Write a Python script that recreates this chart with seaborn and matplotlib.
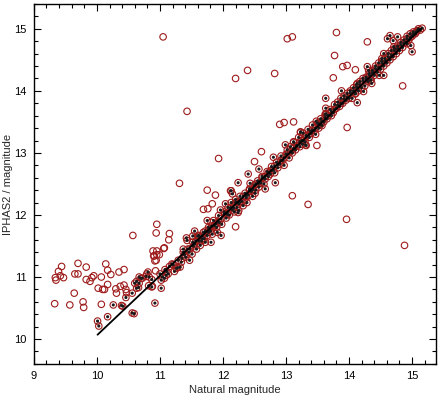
import numpy as np
import pandas as pd
import matplotlib
matplotlib.use("Agg")
import matplotlib.pyplot as plt
from matplotlib.ticker import MultipleLocator
import seaborn as sns

# Outliers: plain open circles
open_x = [9.34, 9.35, 9.39, 9.44, 9.47, 9.42, 9.33, 9.57, 9.64, 9.65, 9.70, 9.70,
          9.78, 9.79, 9.83, 9.83, 9.89, 9.92, 9.95, 10.02, 10.07, 10.07, 10.09, 10.12,
          10.14, 10.17, 10.17, 10.22, 10.30, 10.31, 10.35, 10.37, 10.43, 10.43, 10.46,
          10.47, 10.57, 10.79, 10.88, 10.95, 10.94, 10.95, 10.91, 10.94, 10.93, 10.99,
          11.06, 11.15, 11.14, 11.07, 10.89, 10.95, 10.90, 10.92, 11.69, 11.76, 11.83,
          11.81, 11.05, 11.43, 11.31, 11.75, 11.88, 11.93, 12.20, 12.39, 12.82, 13.02,
          13.10, 13.80, 14.29, 13.77, 13.90, 13.97, 13.75, 14.85, 13.97, 12.90, 12.97,
          13.12, 13.49, 12.61, 12.50, 13.10, 13.35, 13.96, 14.88, 12.20, 14.10]
open_y = [10.99, 10.95, 11.09, 11.17, 10.99, 11.02, 10.57, 10.55, 10.74, 11.05, 11.22, 11.05,
          10.60, 10.51, 11.16, 10.96, 10.93, 10.99, 11.02, 10.82, 11.00, 10.56, 10.80, 10.80,
          11.21, 11.11, 10.88, 11.04, 10.81, 10.74, 11.08, 10.85, 11.12, 10.87, 10.80,
          10.75, 11.67, 11.05, 10.85, 11.85, 11.71, 11.42, 11.34, 11.27, 11.10, 11.36,
          11.46, 11.70, 11.60, 11.47, 11.42, 11.36, 11.34, 11.26, 12.09, 12.10, 12.18,
          11.88, 14.87, 13.67, 12.51, 12.40, 12.32, 12.91, 14.20, 14.33, 14.28, 14.84,
          14.87, 14.94, 14.79, 14.57, 14.39, 14.41, 14.21, 14.08, 13.41, 13.46, 13.49,
          13.50, 13.12, 13.02, 12.86, 12.31, 12.17, 11.93, 11.51, 11.81, 14.34]

# Main sequence below 12 mag: circles with a black centre dot
seq_a_x = [10.01, 10.03, 10.17, 10.26, 10.39, 10.41, 10.46, 10.56, 10.59, 10.56, 10.60,
           10.63, 10.67, 10.63, 10.66, 10.70, 10.72, 10.78, 10.81, 10.83, 10.87, 10.82,
           10.87, 10.92, 11.02, 11.02, 11.07, 11.10, 11.11, 11.15, 11.19, 11.23, 11.26,
           11.29, 11.32, 11.34, 11.37, 11.41, 11.44, 11.47, 11.43, 11.51, 11.55, 11.58,
           11.61, 11.64, 11.67, 11.69, 11.72, 11.75, 11.78, 11.81, 11.83, 11.87, 11.91,
           11.94, 11.97, 11.55, 11.52, 11.42, 11.60, 11.66, 11.47, 11.37, 11.75, 11.90,
           11.98, 11.85, 11.77, 11.96, 11.93, 10.67, 11.00, 11.04, 11.08, 11.13, 11.21,
           11.28, 11.35, 11.39, 11.46, 11.53, 11.62, 11.70, 11.80, 11.89]
seq_a_y = [10.29, 10.21, 10.36, 10.55, 10.54, 10.53, 10.67, 10.42, 10.41, 10.74, 10.90,
           10.93, 11.00, 10.82, 10.83, 10.98, 10.98, 11.01, 11.08, 11.00, 10.96, 10.86,
           10.84, 10.58, 10.82, 10.95, 10.98, 11.03, 11.09, 11.17, 11.21, 11.09, 11.14,
           11.27, 11.16, 11.24, 11.40, 11.32, 11.45, 11.27, 11.59, 11.37, 11.53, 11.45,
           11.67, 11.51, 11.61, 11.72, 11.56, 11.67, 11.77, 11.56, 11.69, 11.83, 11.72,
           11.88, 11.67, 11.74, 11.66, 11.63, 11.66, 11.58, 11.45, 11.45, 11.91, 11.80,
           11.85, 11.91, 11.80, 12.08, 11.99, 10.90, 11.05, 11.00, 11.12, 11.05, 11.20,
           11.15, 11.30, 11.36, 11.40, 11.50, 11.58, 11.62, 11.74, 11.86]

# Main sequence 12 - 14 mag
seq_b_x = [12.02, 12.05, 12.08, 12.10, 12.13, 12.15, 12.18, 12.20, 12.22, 12.25, 12.27,
           12.30, 12.32, 12.35, 12.37, 12.40, 12.42, 12.45, 12.47, 12.50, 12.52, 12.55,
           12.57, 12.60, 12.62, 12.65, 12.67, 12.70, 12.72, 12.75, 12.77, 12.80, 12.82,
           12.85, 12.87, 12.90, 12.92, 12.95, 12.97, 13.00, 12.12, 12.15, 12.24, 12.20,
           12.04, 12.07, 12.24, 12.80, 12.40, 12.57, 12.43, 12.13, 12.83, 12.67, 12.51,
           12.38, 12.25, 12.99, 13.12, 13.23, 13.31,
           13.02, 13.05, 13.07, 13.10, 13.12, 13.15, 13.17, 13.20, 13.22, 13.25, 13.27,
           13.30, 13.32, 13.35, 13.37, 13.40, 13.42, 13.45, 13.47, 13.50, 13.52, 13.55,
           13.57, 13.60, 13.62, 13.65, 13.67, 13.70, 13.72, 13.75, 13.77, 13.80, 13.82,
           13.85, 13.87, 13.90, 13.92, 13.95, 13.97, 14.00, 13.63, 13.63, 13.63, 13.57,
           13.48, 13.88, 14.13, 13.64, 13.55, 13.39, 13.23, 13.32, 13.26]
seq_b_y = [12.05, 11.95, 12.12, 12.00, 12.20, 12.08, 12.05, 12.25, 12.12, 12.18, 12.30,
           12.22, 12.15, 12.35, 12.28, 12.32, 12.42, 12.38, 12.30, 12.48, 12.40, 12.55,
           12.45, 12.52, 12.62, 12.50, 12.58, 12.70, 12.62, 12.66, 12.78, 12.72, 12.68,
           12.85, 12.76, 12.82, 12.95, 12.88, 12.80, 12.98, 12.39, 12.34, 12.52, 12.20,
           12.18, 12.01, 12.04, 12.93, 12.66, 12.74, 12.51, 12.39, 12.52, 12.42, 12.35,
           12.20, 12.07, 13.13, 13.17, 13.33, 13.13,
           13.05, 12.92, 13.10, 13.00, 13.18, 13.05, 13.12, 13.25, 13.10, 13.20, 13.32,
           13.18, 13.26, 13.38, 13.25, 13.32, 13.45, 13.36, 13.30, 13.48, 13.40, 13.55,
           13.44, 13.50, 13.62, 13.55, 13.60, 13.70, 13.60, 13.65, 13.78, 13.72, 13.82,
           13.75, 13.88, 13.80, 13.92, 13.85, 13.96, 13.88, 13.88, 13.72, 13.63, 13.51,
           13.51, 14.00, 13.81, 13.62, 13.46, 13.35, 13.34, 13.12, 13.14]

# Main sequence above 14 mag
seq_c_x = [14.02, 14.05, 14.07, 14.10, 14.12, 14.15, 14.17, 14.20, 14.22, 14.25, 14.27,
           14.30, 14.32, 14.35, 14.37, 14.40, 14.42, 14.45, 14.47, 14.50, 14.52, 14.55,
           14.57, 14.60, 14.62, 14.65, 14.67, 14.70, 14.72, 14.75, 14.77, 14.80, 14.82,
           14.85, 14.87, 14.90, 14.92, 14.95, 14.97, 15.00, 15.02, 15.05, 15.08, 15.10,
           15.13, 15.16, 14.98, 15.00, 14.92, 14.61, 14.65, 14.70, 14.77, 14.71, 14.55,
           14.52, 14.29, 14.31, 14.37, 14.48, 14.55, 14.34, 14.36, 14.13, 14.10, 14.23]
seq_c_y = [14.00, 13.88, 14.05, 13.95, 14.10, 14.00, 14.15, 14.05, 14.20, 14.08, 14.22,
           14.15, 14.28, 14.18, 14.32, 14.25, 14.40, 14.30, 14.45, 14.35, 14.48, 14.40,
           14.52, 14.45, 14.60, 14.50, 14.65, 14.55, 14.68, 14.60, 14.72, 14.65, 14.78,
           14.70, 14.82, 14.78, 14.88, 14.82, 14.92, 14.88, 14.95, 14.92, 14.97, 15.00,
           14.98, 15.01, 14.73, 14.63, 14.76, 14.84, 14.89, 14.81, 14.87, 14.71, 14.60,
           14.52, 14.39, 14.33, 14.33, 14.25, 14.25, 14.17, 14.12, 14.12, 13.96, 13.99]

# Points lying right on the relation
seq_d_x = [11.52, 11.57, 11.62, 11.67, 11.72, 11.77, 11.82, 11.87, 11.92, 11.97, 12.02,
           12.07, 12.12, 12.17, 12.22, 12.27, 12.32, 12.37, 12.42, 12.47, 12.52, 12.57,
           12.62, 12.67, 12.72, 12.77, 12.82, 12.87, 12.92, 12.97, 13.02, 13.07, 13.12,
           13.17, 13.22, 13.27, 13.32, 13.37, 13.42, 13.47, 13.52, 13.57, 13.62, 13.67,
           13.72, 13.77, 13.82, 13.87, 13.92, 13.97, 14.02, 14.07, 14.12, 14.17, 14.22,
           14.27, 14.32, 14.37, 14.42, 14.47, 14.52, 14.57, 14.62, 14.67, 14.72, 14.77,
           14.82, 14.87, 14.92, 14.97, 15.02, 15.07]
seq_d_y = [11.56, 11.58, 11.66, 11.66, 11.74, 11.72, 11.82, 11.84, 11.90, 11.94, 12.02,
           12.03, 12.12, 12.11, 12.20, 12.21, 12.30, 12.31, 12.40, 12.41, 12.50, 12.51,
           12.60, 12.62, 12.68, 12.72, 12.79, 12.81, 12.88, 12.92, 12.98, 13.02, 13.07,
           13.11, 13.18, 13.20, 13.28, 13.30, 13.37, 13.40, 13.47, 13.50, 13.57, 13.60,
           13.67, 13.70, 13.77, 13.80, 13.87, 13.90, 13.97, 14.00, 14.06, 14.10, 14.16,
           14.19, 14.26, 14.29, 14.36, 14.38, 14.45, 14.48, 14.55, 14.58, 14.65, 14.68,
           14.74, 14.77, 14.84, 14.86, 14.92, 14.95]

# Fitted relation
line_x = [10.01, 15.14]
line_y = [10.07, 15.00]

dotted = pd.DataFrame({
    "natural": seq_a_x + seq_b_x + seq_c_x + seq_d_x,
    "iphas": seq_a_y + seq_b_y + seq_c_y + seq_d_y,
})
outliers = pd.DataFrame({"natural": open_x, "iphas": open_y})

sns.set_style("ticks")
plt.rcParams["font.family"] = ["Liberation Sans", "DejaVu Sans"]

fig = plt.figure(figsize=(4.4, 3.99), dpi=100)
ax = fig.add_axes([0.077, 0.088, 0.914, 0.902])

ring = "#9e1b1b"
sns.scatterplot(data=outliers, x="natural", y="iphas", ax=ax, marker="o", s=22,
                facecolor="none", edgecolor=ring, linewidth=0.8, zorder=3)
sns.scatterplot(data=dotted, x="natural", y="iphas", ax=ax, marker="o", s=22,
                facecolor="none", edgecolor=ring, linewidth=0.8, zorder=3)
sns.scatterplot(data=dotted, x="natural", y="iphas", ax=ax, marker="o", s=5,
                color="#1a1a1a", edgecolor="none", zorder=4)
sns.lineplot(x=line_x, y=line_y, ax=ax, color="black", linewidth=1.3, zorder=5)

ax.set_xlim(9, 15.38)
ax.set_ylim(9.6, 15.4)
ax.xaxis.set_major_locator(MultipleLocator(1))
ax.xaxis.set_minor_locator(MultipleLocator(0.2))
ax.yaxis.set_major_locator(MultipleLocator(1))
ax.yaxis.set_minor_locator(MultipleLocator(0.2))
ax.tick_params(which="both", direction="in", top=True, right=True, width=0.8,
               labelsize=8, pad=5, colors="black")
ax.tick_params(which="major", length=5)
ax.tick_params(which="minor", length=3)
for sp in ax.spines.values():
    sp.set_linewidth(1.0)
    sp.set_color("black")

ax.set_xlabel("Natural magnitude", fontsize=8, labelpad=3)
ax.set_ylabel("IPHAS2 / magnitude", fontsize=8)
ax.yaxis.set_label_coords(-0.053, 0.5)

fig.savefig("out.png", dpi=100)
